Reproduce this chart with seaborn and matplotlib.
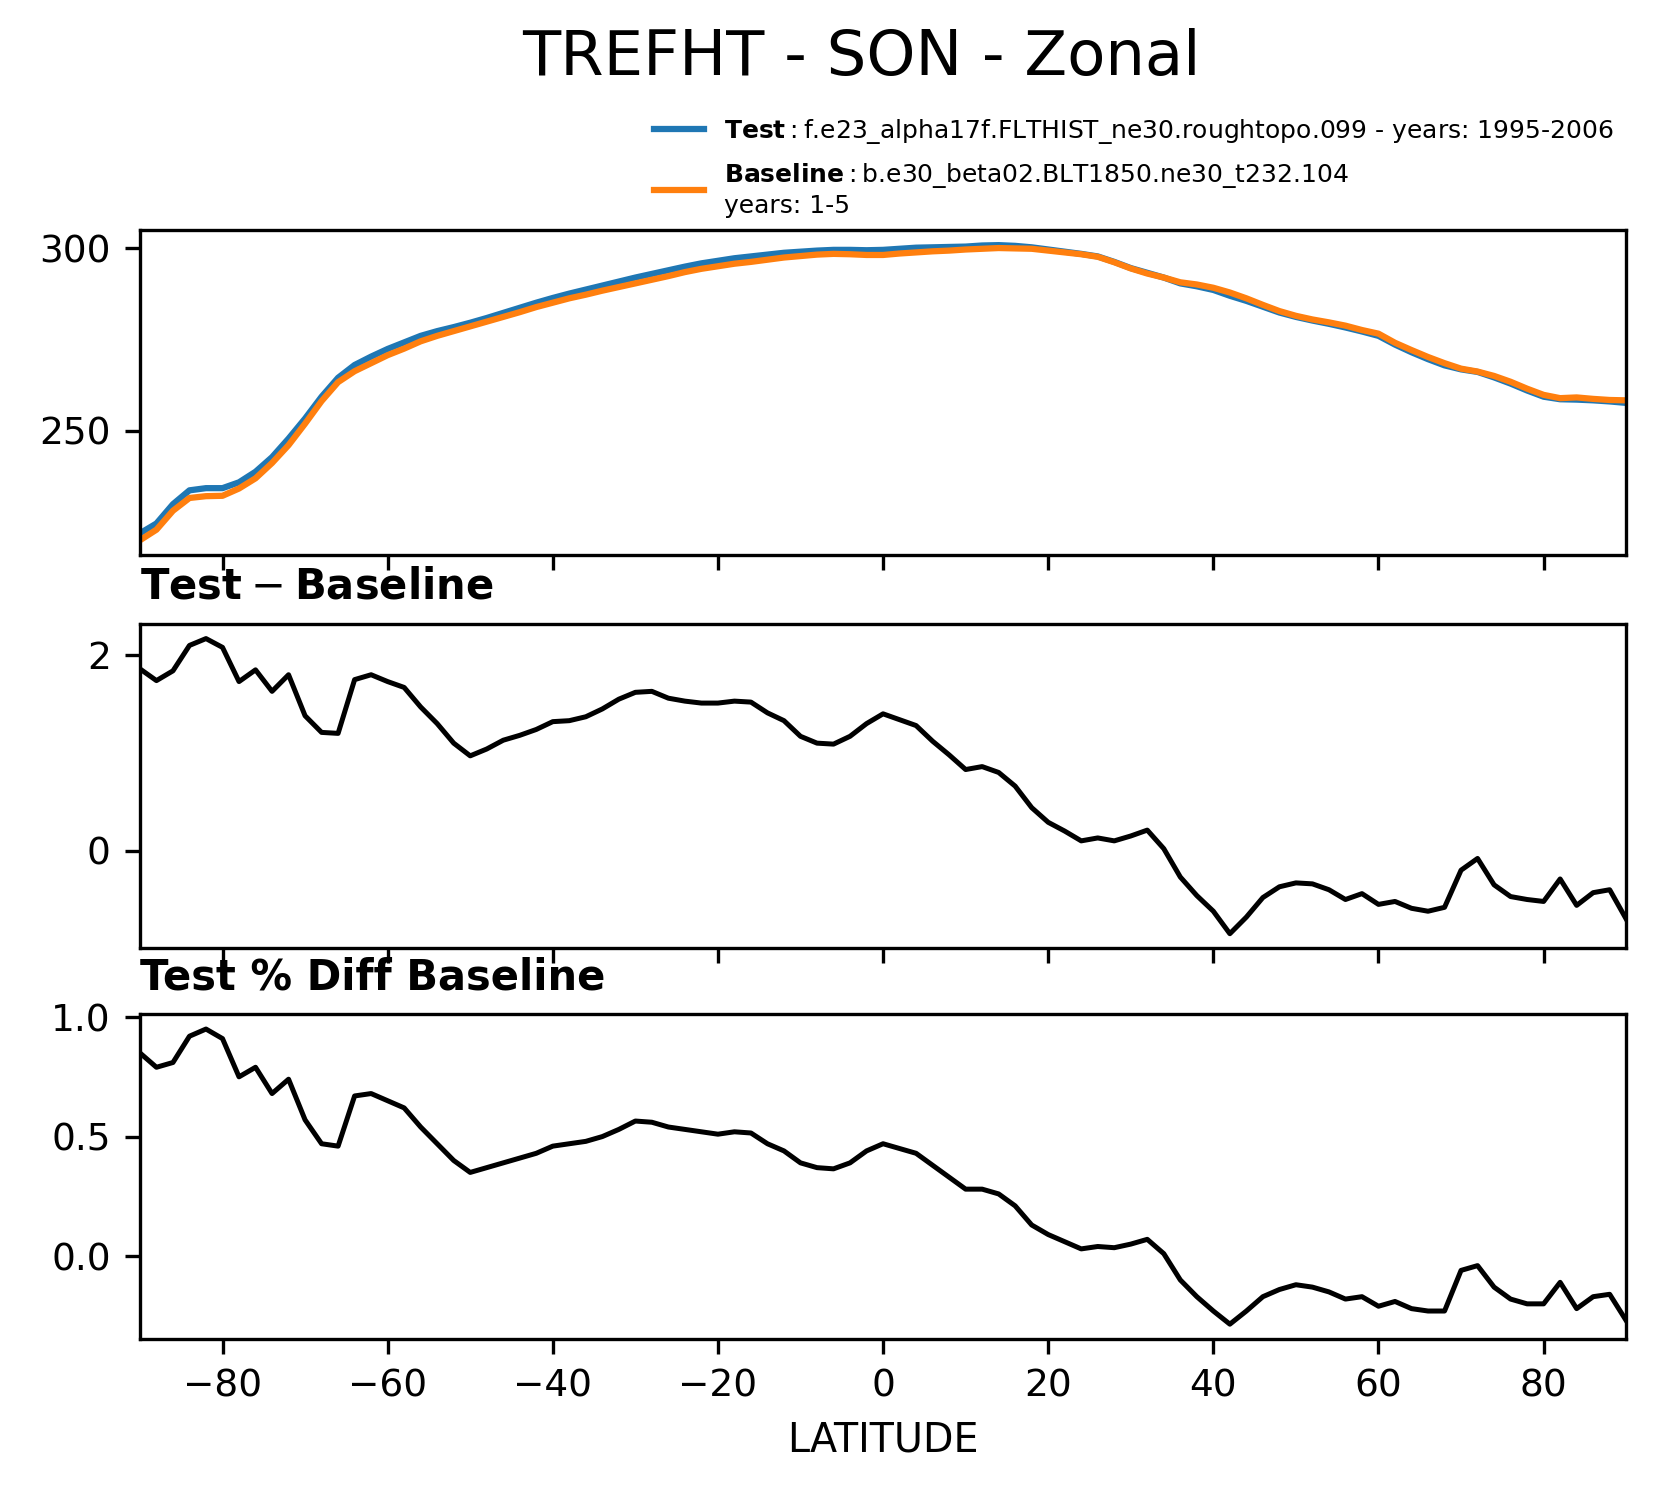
import numpy as np
import seaborn as sns
import matplotlib
matplotlib.use("Agg")
import matplotlib.pyplot as plt


#%% data

lat = [-90, -88, -86, -84, -82, -80, -78, -76, -74, -72,
       -70, -68, -66, -64, -62, -60, -58, -56, -54, -52,
       -50, -48, -46, -44, -42, -40, -38, -36, -34, -32,
       -30, -28, -26, -24, -22, -20, -18, -16, -14, -12,
       -10, -8, -6, -4, -2, 0, 2, 4, 6, 8,
       10, 12, 14, 16, 18, 20, 22, 24, 26, 28,
       30, 32, 34, 36, 38, 40, 42, 44, 46, 48,
       50, 52, 54, 56, 58, 60, 62, 64, 66, 68,
       70, 72, 74, 76, 78, 80, 82, 84, 86, 88, 90]

test = [221.8, 224.5, 229.8, 233.6, 234.2, 234.2, 235.8, 238.7, 242.7, 247.8,
        253.3, 259.3, 264.5, 268.0, 270.3, 272.4, 274.2, 276.0, 277.3, 278.4,
        279.6, 280.9, 282.3, 283.7, 285.1, 286.4, 287.6, 288.7, 289.8, 290.9,
        292.0, 293.0, 294.0, 295.0, 295.9, 296.6, 297.3, 297.8, 298.3, 298.8,
        299.1, 299.4, 299.6, 299.6, 299.5, 299.6, 299.9, 300.2, 300.3, 300.4,
        300.5, 300.8, 300.9, 300.7, 300.3, 299.7, 299.1, 298.5, 297.8, 296.3,
        294.6, 293.3, 292.0, 290.4, 289.6, 288.6, 287.0, 285.6, 284.0, 282.4,
        281.2, 280.2, 279.3, 278.3, 277.2, 276.0, 273.6, 271.5, 269.6, 267.9,
        266.8, 266.1, 264.6, 262.9, 261.0, 259.3, 258.6, 258.5, 258.3, 258.0, 257.6]

baseline = [219.9, 222.8, 228.0, 231.5, 232.0, 232.1, 234.1, 236.9, 241.1, 246.0,
            251.9, 258.1, 263.3, 266.3, 268.5, 270.7, 272.5, 274.5, 276.0, 277.3,
            278.6, 279.9, 281.2, 282.5, 283.9, 285.1, 286.3, 287.3, 288.4, 289.4,
            290.4, 291.4, 292.4, 293.5, 294.4, 295.1, 295.8, 296.3, 296.9, 297.5,
            297.9, 298.3, 298.5, 298.4, 298.2, 298.2, 298.6, 298.9, 299.2, 299.4,
            299.7, 299.9, 300.1, 300.0, 299.9, 299.4, 298.9, 298.4, 297.7, 296.2,
            294.5, 293.1, 292.0, 290.7, 290.1, 289.2, 287.9, 286.3, 284.5, 282.8,
            281.5, 280.5, 279.7, 278.8, 277.6, 276.6, 274.1, 272.1, 270.2, 268.5,
            267.0, 266.2, 265.0, 263.4, 261.5, 259.8, 258.9, 259.1, 258.7, 258.4, 258.3]

diff = [1.86, 1.74, 1.84, 2.10, 2.17, 2.08, 1.73, 1.85, 1.63, 1.80,
        1.38, 1.21, 1.20, 1.75, 1.80, 1.73, 1.67, 1.47, 1.30, 1.10,
        0.97, 1.04, 1.13, 1.18, 1.24, 1.32, 1.33, 1.37, 1.45, 1.55,
        1.62, 1.63, 1.56, 1.53, 1.51, 1.51, 1.53, 1.52, 1.41, 1.33,
        1.17, 1.10, 1.09, 1.17, 1.30, 1.40, 1.34, 1.28, 1.12, 0.98,
        0.83, 0.86, 0.80, 0.66, 0.44, 0.29, 0.20, 0.10, 0.13, 0.10,
        0.15, 0.21, 0.02, -0.27, -0.46, -0.62, -0.85, -0.68, -0.48, -0.37,
        -0.33, -0.34, -0.40, -0.50, -0.44, -0.55, -0.52, -0.59, -0.62, -0.58,
        -0.20, -0.08, -0.35, -0.47, -0.50, -0.52, -0.29, -0.56, -0.43, -0.40, -0.70]

pct_diff = [0.85, 0.79, 0.81, 0.92, 0.95, 0.91, 0.75, 0.79, 0.68, 0.74,
            0.57, 0.47, 0.46, 0.67, 0.68, 0.65, 0.62, 0.54, 0.47, 0.40,
            0.35, 0.37, 0.39, 0.41, 0.43, 0.46, 0.47, 0.48, 0.50, 0.53,
            0.565, 0.56, 0.54, 0.53, 0.52, 0.51, 0.52, 0.515, 0.47, 0.44,
            0.39, 0.37, 0.365, 0.39, 0.44, 0.47, 0.45, 0.43, 0.38, 0.33,
            0.28, 0.28, 0.26, 0.21, 0.13, 0.09, 0.06, 0.03, 0.04, 0.035,
            0.05, 0.07, 0.01, -0.10, -0.17, -0.23, -0.285, -0.23, -0.17, -0.14,
            -0.12, -0.13, -0.15, -0.18, -0.17, -0.21, -0.19, -0.22, -0.23, -0.23,
            -0.06, -0.04, -0.13, -0.18, -0.20, -0.20, -0.11, -0.22, -0.17, -0.16, -0.27]

test_label = r"$\mathbf{Test}:$f.e23_alpha17f.FLTHIST_ne30.roughtopo.099 - years: 1995-2006"
base_label = r"$\mathbf{Baseline}:$b.e30_beta02.BLT1850.ne30_t232.104" + "\nyears: 1-5"


#%% figure

fig = plt.figure(figsize=(5.52, 4.9867), dpi=300)

left, width, height = 0.0845, 0.8975, 0.217
ax1 = fig.add_axes([left, 0.629, width, height])
ax2 = fig.add_axes([left, 0.366, width, height])
ax3 = fig.add_axes([left, 0.105, width, height])

# top: test and baseline
sns.lineplot(x=lat, y=test, ax=ax1, color="#1f77b4", linewidth=1.5, label=test_label)
sns.lineplot(x=lat, y=baseline, ax=ax1, color="#ff7f0e", linewidth=1.5, label=base_label)
ax1.set_yticks([250, 300])
ax1.legend(loc="lower right", bbox_to_anchor=(1.0, 1.0), frameon=False,
           fontsize=6.0, borderaxespad=0.1, handlelength=2.0, labelspacing=0.6)

# middle: difference
sns.lineplot(x=lat, y=diff, ax=ax2, color="black", linewidth=1.2, legend=False)
ax2.set_yticks([0, 2])
ax2.set_title(r"Test$\:-\:$Baseline", loc="left", fontsize=10, fontweight="bold")

# bottom: percent difference
sns.lineplot(x=lat, y=pct_diff, ax=ax3, color="black", linewidth=1.2, legend=False)
ax3.set_yticks([0.0, 0.5, 1.0])
ax3.set_title("Test % Diff Baseline", loc="left", fontsize=10, fontweight="bold")
ax3.set_xlabel("LATITUDE", fontsize=9.5)

for ax in (ax1, ax2, ax3):
    ax.set_xlim(-90, 90)
    ax.set_xticks([-80, -60, -40, -20, 0, 20, 40, 60, 80])
    ax.tick_params(labelsize=9)
    ax.set_ylabel("")
for ax in (ax1, ax2):
    ax.tick_params(labelbottom=False)
    ax.set_xlabel("")

fig.suptitle("TREFHT - SON - Zonal", fontsize=15, x=0.52, y=0.981)

fig.savefig("out.png", dpi=300)
